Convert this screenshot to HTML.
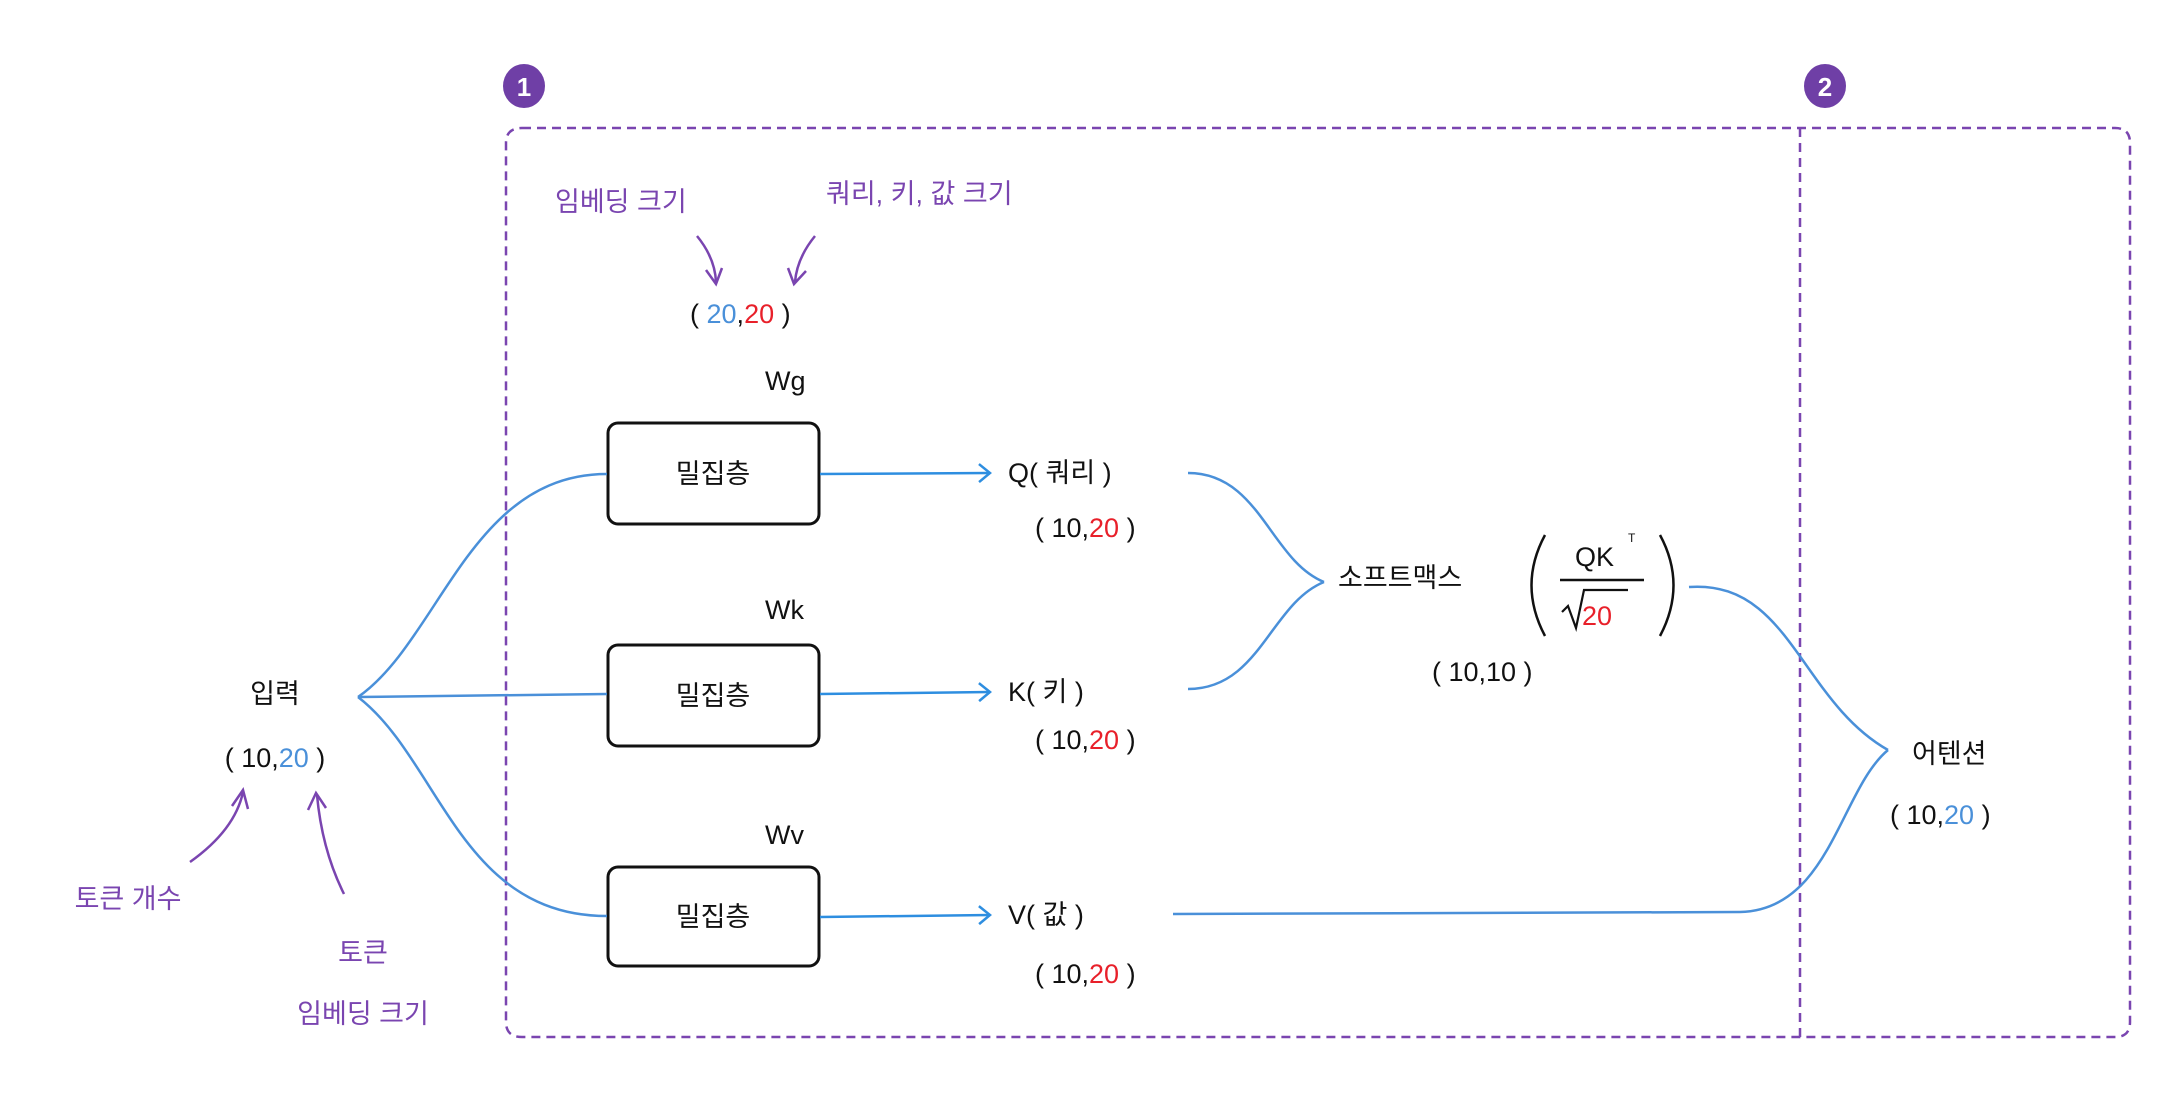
<!DOCTYPE html>
<html><head><meta charset="utf-8"><style>
html,body{margin:0;padding:0;background:#fff;}
svg{display:block;}
text{font-family:"Liberation Sans","Noto Sans CJK KR",sans-serif;font-size:27px;fill:#111;}
.p{fill:#7a45b0;}
.b{fill:#4a90d9;}
.r{fill:#e8202a;}
</style></head><body>
<svg width="2174" height="1109" viewBox="0 0 2174 1109" xmlns="http://www.w3.org/2000/svg">
<defs>
<marker id="ab" markerWidth="14" markerHeight="20" refX="12" refY="10" orient="auto" markerUnits="userSpaceOnUse">
<path d="M1,1 L12,10 L1,19" fill="none" stroke="#2e8ee0" stroke-width="2.5"/></marker>
<marker id="ap" markerWidth="16" markerHeight="20" refX="8" refY="18" orient="auto-start-reverse" markerUnits="userSpaceOnUse">
<path d="M1,4 L8,18 L15,4" fill="none" stroke="#7a45b0" stroke-width="2.5" transform="rotate(0)"/></marker>
</defs>
<!-- dashed boxes -->
<path d="M522,128 H2115 Q2130,128 2130,143 V1022 Q2130,1037 2115,1037 H522 Q506,1037 506,1022 V143 Q506,128 522,128 Z" fill="none" stroke="#7a45b0" stroke-width="2.5" stroke-dasharray="9,6"/>
<line x1="1800" y1="128" x2="1800" y2="1037" stroke="#7a45b0" stroke-width="2.5" stroke-dasharray="9,6"/>
<!-- badges -->
<ellipse cx="524" cy="86" rx="21" ry="22" fill="#6f3fa6"/>
<text x="524" y="96" text-anchor="middle" style="fill:#fff;font-weight:bold;font-size:26px">1</text>
<ellipse cx="1825" cy="86" rx="21" ry="22" fill="#6f3fa6"/>
<text x="1825" y="96" text-anchor="middle" style="fill:#fff;font-weight:bold;font-size:26px">2</text>
<!-- top annotations -->
<text class="p" x="555" y="211">임베딩 크기</text>
<text class="p" x="826" y="203">쿼리, 키, 값 크기</text>
<path d="M697,236 Q715,258 716,282" fill="none" stroke="#7a45b0" stroke-width="2.5"/>
<path d="M706,270 L716,284 L722,268" fill="none" stroke="#7a45b0" stroke-width="2.5"/>
<path d="M815,236 Q797,258 795,282" fill="none" stroke="#7a45b0" stroke-width="2.5"/>
<path d="M788,268 L794,284 L806,271" fill="none" stroke="#7a45b0" stroke-width="2.5"/>
<text x="690" y="323">( <tspan class="b">20</tspan>,<tspan class="r">20</tspan> )</text>
<!-- W labels -->
<text x="765" y="390">Wg</text>
<text x="765" y="619">Wk</text>
<text x="765" y="844">Wv</text>
<!-- boxes -->
<rect x="608" y="423" width="211" height="101" rx="10" fill="none" stroke="#111" stroke-width="3"/>
<rect x="608" y="645" width="211" height="101" rx="10" fill="none" stroke="#111" stroke-width="3"/>
<rect x="608" y="867" width="211" height="99" rx="10" fill="none" stroke="#111" stroke-width="3"/>
<text x="713" y="483" text-anchor="middle">밀집층</text>
<text x="713" y="705" text-anchor="middle">밀집층</text>
<text x="713" y="926" text-anchor="middle">밀집층</text>
<!-- arrows to Q K V -->
<g stroke="#2e8ee0" stroke-width="2.5" fill="none">
<line x1="820" y1="474" x2="990" y2="473" marker-end="url(#ab)"/>
<line x1="820" y1="694" x2="990" y2="692" marker-end="url(#ab)"/>
<line x1="820" y1="917" x2="990" y2="915" marker-end="url(#ab)"/>
</g>
<text x="1008" y="482">Q( 쿼리 )</text>
<text x="1008" y="701">K( 키 )</text>
<text x="1008" y="924">V( 값 )</text>
<text x="1035" y="537">( 10,<tspan class="r">20</tspan> )</text>
<text x="1035" y="749">( 10,<tspan class="r">20</tspan> )</text>
<text x="1035" y="983">( 10,<tspan class="r">20</tspan> )</text>
<!-- input -->
<text x="275" y="703" text-anchor="middle">입력</text>
<text x="275" y="767" text-anchor="middle">( 10,<tspan class="b">20</tspan> )</text>
<g stroke="#4a90d9" stroke-width="2.5" fill="none">
<path d="M358,697 C440,640 470,474 607,474"/>
<path d="M358,697 L607,694"/>
<path d="M358,697 C440,760 460,916 607,916"/>
<!-- Q,K to softmax -->
<path d="M1188,473 C1260,473 1270,560 1324,582"/>
<path d="M1188,689 C1260,689 1270,604 1324,582"/>
<!-- softmax to attention -->
<path d="M1689,587 C1790,580 1800,700 1888,750"/>
<path d="M1173,914 L1740,912 C1830,910 1840,790 1888,750"/>
</g>
<!-- bottom-left annotations -->
<text class="p" x="128" y="908" text-anchor="middle">토큰 개수</text>
<text class="p" x="363" y="962" text-anchor="middle">토큰</text>
<text class="p" x="363" y="1023" text-anchor="middle">임베딩 크기</text>
<path d="M190,862 Q235,830 243,792" fill="none" stroke="#7a45b0" stroke-width="2.5"/>
<path d="M232,806 L243,790 L248,809" fill="none" stroke="#7a45b0" stroke-width="2.5"/>
<path d="M344,894 Q322,850 317,795" fill="none" stroke="#7a45b0" stroke-width="2.5"/>
<path d="M308,810 L316,793 L326,808" fill="none" stroke="#7a45b0" stroke-width="2.5"/>
<!-- softmax -->
<text x="1338" y="587">소프트맥스</text>
<text x="1432" y="681">( 10,10 )</text>
<path d="M1545,535 Q1518,585 1545,636" fill="none" stroke="#111" stroke-width="2.5"/>
<path d="M1660,535 Q1687,585 1660,636" fill="none" stroke="#111" stroke-width="2.5"/>
<text x="1575" y="566">QK</text>
<text x="1628" y="542" style="font-size:12px">T</text>
<line x1="1560" y1="580" x2="1644" y2="580" stroke="#111" stroke-width="2.5"/>
<path d="M1562,612 L1568,606 L1576,628 L1584,590 L1628,590" fill="none" stroke="#111" stroke-width="2.2"/>
<text class="r" x="1582" y="625">20</text>
<!-- attention -->
<text x="1912" y="763">어텐션</text>
<text x="1890" y="824">( 10,<tspan class="b">20</tspan> )</text>
</svg>
</body></html>
